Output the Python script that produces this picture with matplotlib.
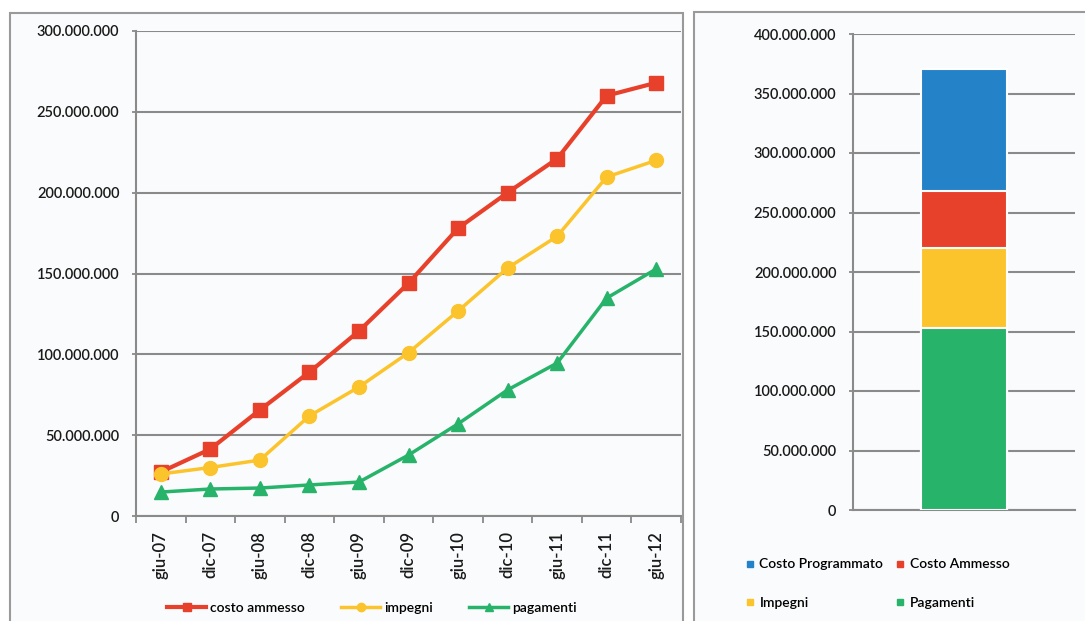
import matplotlib
matplotlib.use("Agg")
import matplotlib.pyplot as plt
from matplotlib.lines import Line2D
from matplotlib.patches import Rectangle
from matplotlib.ticker import FuncFormatter, MultipleLocator

plt.rcParams['font.family'] = ['Lato', 'DejaVu Sans']
plt.rcParams['font.weight'] = 'semibold'

categories = ["giu-07", "dic-07", "giu-08", "dic-08", "giu-09", "dic-09",
              "giu-10", "dic-10", "giu-11", "dic-11", "giu-12"]
costo_ammesso = [27.2e6, 41.4e6, 65.6e6, 89e6, 114.4e6, 144e6, 178e6, 200e6, 221e6, 260e6, 268e6]
impegni = [26e6, 30e6, 34.6e6, 61.9e6, 79.8e6, 101e6, 126.8e6, 153.4e6, 173e6, 209.7e6, 220e6]
pagamenti = [14.8e6, 16.7e6, 17.3e6, 19.2e6, 21e6, 37.7e6, 57e6, 78e6, 94.6e6, 134.8e6, 152.8e6]

bar_labels = ["Costo Programmato", "Costo Ammesso", "Impegni", "Pagamenti"]
bar_values = [371e6, 268e6, 220e6, 153e6]

RED = "#e8412b"
YEL = "#fcc42c"
GRN = "#28b36b"
BLU = "#2482c8"
GRID = "#8a8a8a"
TXT = "#1a1a1a"
BG = "#fafbfc"

W, H = 1085, 621
fig = plt.figure(figsize=(W / 100, H / 100), dpi=100)
fig.patch.set_facecolor("white")

def fx(px):
    return px / W

def fy(py):
    return 1 - py / H

# panel frames
fig.patches.append(Rectangle((fx(10), fy(640)), fx(683) - fx(10), fy(13) - fy(640),
                             transform=fig.transFigure, fill=True, facecolor=BG,
                             edgecolor="#9a9a9a", lw=1.5, zorder=-5))
fig.patches.append(Rectangle((fx(694), fy(640)), fx(1100) - fx(694), fy(12) - fy(640),
                             transform=fig.transFigure, fill=True, facecolor=BG,
                             edgecolor="#9a9a9a", lw=1.5, zorder=-5))

fmt = FuncFormatter(lambda v, p: "0" if v == 0 else f"{int(v):,}".replace(",", "."))

# ---- left line chart ----
ax = fig.add_axes([fx(136), fy(516), fx(681) - fx(136), fy(31) - fy(516)])
ax.set_zorder(2)
ax.set_facecolor("none")
x = list(range(len(categories)))
ax.plot(x, costo_ammesso, color=RED, lw=3, marker="s", ms=10, label="costo ammesso", zorder=3)
ax.plot(x, impegni, color=YEL, lw=2.5, marker="o", ms=10, label="impegni", zorder=4)
ax.plot(x, pagamenti, color=GRN, lw=2.5, marker="^", ms=10, label="pagamenti", zorder=5)
ax.set_xlim(-0.5, len(categories) - 0.5)
ax.set_ylim(0, 300e6)
ax.yaxis.set_major_locator(MultipleLocator(50e6))
ax.yaxis.set_major_formatter(fmt)
ax.set_xticks(x)
ax.set_xticklabels(categories, rotation=90, fontsize=12, color=TXT)
ax.set_xticks([i - 0.5 for i in range(len(categories) + 1)], minor=True)
ax.tick_params(axis="x", which="major", length=0, pad=11)
ax.tick_params(axis="x", which="minor", length=5, color=GRID, width=1.3)
ax.tick_params(axis="y", length=3, color=GRID, width=1.3, labelsize=10.5, labelcolor=TXT, pad=9)
ax.grid(axis="y", color=GRID, lw=1.5)
ax.set_axisbelow(True)
for s in ["top", "right"]:
    ax.spines[s].set_visible(False)
for s in ["left", "bottom"]:
    ax.spines[s].set_color(GRID)
    ax.spines[s].set_linewidth(1.5)

fig.legend(handles=ax.get_lines(), loc="center", bbox_to_anchor=(fx(372), fy(608)),
           ncol=3, frameon=False, fontsize=10, handlelength=2.8, columnspacing=2.6,
           handletextpad=0.3, markerscale=0.6)

# ---- right bar chart ----
bx = fig.add_axes([fx(853), fy(510), fx(1075) - fx(853), fy(34) - fy(510)])
bx.set_zorder(2)
bx.set_facecolor("none")
colors = [BLU, RED, YEL, GRN]
handles = []
for lab, val, c in zip(bar_labels, bar_values, colors):
    bx.bar([0], [val], width=0.39, color=c, edgecolor="white", lw=1.5, zorder=3)
    handles.append(Line2D([], [], ls="none", marker="s", ms=5, color=c, label=lab))
bx.set_xlim(-0.5, 0.5)
bx.set_ylim(0, 400e6)
bx.yaxis.set_major_locator(MultipleLocator(50e6))
bx.yaxis.set_major_formatter(fmt)
bx.set_xticks([])
bx.tick_params(axis="y", length=3, color=GRID, width=1.3, labelsize=10.5, labelcolor=TXT, pad=9)
bx.grid(axis="y", color=GRID, lw=1.5)
bx.set_axisbelow(True)
for s in ["top", "right"]:
    bx.spines[s].set_visible(False)
for s in ["left", "bottom"]:
    bx.spines[s].set_color(GRID)
    bx.spines[s].set_linewidth(1.5)

leg_handles = [handles[0], handles[2], handles[1], handles[3]]
fig.legend(handles=leg_handles, loc="upper left", bbox_to_anchor=(fx(733), fy(546)),
           ncol=2, frameon=False, fontsize=10, handlelength=0.6, handletextpad=0.4,
           columnspacing=0.9, labelspacing=1.9)

fig.savefig("out.png", dpi=100, facecolor="white")
